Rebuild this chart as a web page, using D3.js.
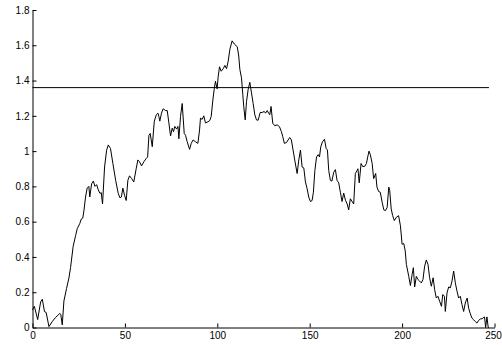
<!DOCTYPE html>
<html>
<head>
<meta charset="utf-8">
<script src="https://cdn.jsdelivr.net/npm/d3@7"></script>
<style>
  html, body { margin: 0; padding: 0; background: #fff; }
  svg { display: block; }
  .axis text { font-family: "Liberation Sans", Arial, sans-serif; font-size: 10px; fill: #000; }
  .axis path, .axis line { stroke: #000; stroke-width: 1; }
</style>
</head>
<body>
<svg id="chart" width="502" height="345"></svg>
<script>
// Signal samples (x position, value)
const sampleX = [
  0, 1, 2.8, 4.4, 5.3, 6.5, 7.4, 8.9, 10.7, 12.5, 14.8, 15.3, 16.1, 17, 18.4, 19.7, 20.6, 22, 23.3, 24.2,
  25.6, 26.4, 27.2, 27.8, 28.7, 29.6, 30.5, 31, 32, 32.9, 33.8, 34.7, 35.6, 36.5, 37.2, 37.9, 39, 40.1, 41, 42.2,
  43.5, 45, 46.4, 47.3, 48.1, 48.9, 49.8, 50.7, 51.6, 52.5, 53.6, 54.8, 56.1, 57, 57.9, 59, 60.3, 61.5, 62.3, 63,
  63.7, 64.8, 65.9, 67, 67.9, 68.4, 68.9, 69.8, 70.7, 72, 72.9, 73.8, 74.7, 75.6, 76.3, 77, 78, 78.7, 79.2, 80.1,
  81, 82.1, 82.8, 83.7, 85, 85.9, 86.9, 88.2, 89.5, 90.4, 90.9, 91.8, 92.7, 93.6, 94.9, 95.9, 96.7, 97.6, 98.3, 99,
  99.9, 100.5, 101.2, 102.1, 103.2, 104.1, 105, 105.9, 106.8, 108, 109.3, 110.8, 111.6, 112.2, 113.1, 113.8, 114.3, 115.1, 115.8, 116.7,
  117.6, 118.5, 119.4, 120.3, 121.2, 122.1, 123.2, 124.3, 125.4, 126.1, 127, 127.8, 128.4, 129.1, 130, 131.1, 132.4, 133.6, 134.7, 135.4,
  136.3, 137.4, 138.3, 139.2, 140.1, 141, 141.9, 143.2, 144.1, 145, 145.9, 146.8, 147.7, 148.6, 149.5, 150.4, 151.3, 152, 152.8, 153.7,
  154.6, 155.3, 156, 156.9, 158, 158.9, 159.6, 160.3, 161.2, 162, 163, 163.9, 164.8, 165.7, 166.6, 167.5, 168.4, 169.4, 170.3, 171.1,
  172, 172.9, 173.8, 174.7, 175.6, 176.1, 176.8, 177.8, 178.7, 179.8, 180.7, 181.4, 182.1, 182.8, 183.8, 184.6, 185.7, 186.4, 187.3, 188.2,
  189.2, 190.1, 191, 191.9, 192.8, 193.3, 194.1, 194.9, 195.8, 196.9, 198.1, 199.1, 200, 200.9, 201.7, 202.3, 203.6, 204.5, 205.4, 206.1,
  206.8, 207.7, 208.6, 209.5, 210.4, 211.3, 212.2, 213.1, 214, 214.9, 215.8, 216.8, 217.6, 218.5, 219.4, 220.3, 221.3, 222, 222.9, 223.4,
  224.3, 225.2, 226.1, 227, 227.9, 228.8, 229.7, 230.6, 231.5, 232.4, 233.3, 234.2, 235.2, 236, 236.9, 237.8, 238.7, 239.6, 240.5, 241.4,
  242.3, 243.3, 244.6, 245.2, 245.9, 246.6, 247
];
const sampleY = [
  0.10, 0.12, 0.045, 0.145, 0.16, 0.09, 0.085, 0.005, 0.034, 0.057, 0.08, 0.075, 0.015, 0.15, 0.22, 0.28, 0.34, 0.46, 0.52, 0.56,
  0.59, 0.615, 0.62, 0.66, 0.74, 0.79, 0.80, 0.74, 0.815, 0.83, 0.80, 0.81, 0.78, 0.76, 0.765, 0.70, 0.91, 1.005, 1.035, 1.015,
  0.93, 0.834, 0.76, 0.735, 0.74, 0.79, 0.75, 0.72, 0.834, 0.86, 0.845, 0.825, 0.90, 0.95, 0.94, 0.916, 0.94, 0.958, 0.967, 1.09,
  1.10, 1.025, 1.17, 1.206, 1.215, 1.196, 1.17, 1.215, 1.24, 1.23, 1.23, 1.16, 1.086, 1.13, 1.11, 1.14, 1.125, 1.14, 1.07, 1.196,
  1.27, 1.10, 1.09, 1.053, 1.01, 1.044, 1.063, 1.053, 1.044, 1.12, 1.187, 1.18, 1.20, 1.16, 1.166, 1.173, 1.196, 1.29, 1.35, 1.396,
  1.353, 1.425, 1.478, 1.453, 1.467, 1.486, 1.467, 1.51, 1.577, 1.625, 1.606, 1.592, 1.539, 1.463, 1.415, 1.32, 1.253, 1.177, 1.28, 1.35,
  1.39, 1.33, 1.27, 1.206, 1.177, 1.175, 1.219, 1.219, 1.225, 1.215, 1.23, 1.215, 1.206, 1.253, 1.158, 1.144, 1.149, 1.139, 1.11, 1.082,
  1.044, 1.048, 1.063, 1.077, 1.063, 1.006, 0.95, 0.873, 0.95, 1.006, 0.91, 0.905, 0.825, 0.787, 0.739, 0.714, 0.72, 0.767, 0.89, 0.967,
  0.98, 0.967, 1.025, 1.053, 1.067, 1.015, 1.006, 0.89, 0.834, 0.83, 0.88, 0.895, 0.834, 0.82, 0.767, 0.714, 0.762, 0.72, 0.70, 0.667,
  0.73, 0.715, 0.70, 0.873, 0.89, 0.90, 0.82, 0.93, 0.912, 0.914, 0.93, 0.967, 1.00, 0.98, 0.93, 0.844, 0.873, 0.796, 0.771, 0.767,
  0.71, 0.667, 0.663, 0.68, 0.796, 0.777, 0.672, 0.634, 0.606, 0.625, 0.634, 0.577, 0.472, 0.476, 0.434, 0.358, 0.29, 0.238, 0.30, 0.339,
  0.23, 0.29, 0.272, 0.263, 0.253, 0.272, 0.348, 0.383, 0.358, 0.282, 0.234, 0.282, 0.215, 0.167, 0.177, 0.149, 0.12, 0.187, 0.177, 0.091,
  0.196, 0.23, 0.225, 0.263, 0.32, 0.253, 0.206, 0.167, 0.177, 0.13, 0.091, 0.139, 0.167, 0.11, 0.078, 0.053, 0.044, 0.034, 0.025, 0.04,
  0.048, 0.05, 0.06, 0.0, 0.06, 0.0, 0.0
];
// Horizontal reference level
const threshold = 1.36;
const thresholdSpan = [0, 247];
// Axis settings
const xDomain = [0, 250];
const yDomain = [0, 1.8];
const xTicks = [0, 50, 100, 150, 200, 250];
const yTicks = [0, 0.2, 0.4, 0.6, 0.8, 1, 1.2, 1.4, 1.6, 1.8];

const svg = d3.select("#chart");
const plotLeft = 32.5, plotRight = 494.5, plotTop = 10, plotBottom = 327.5;

const x = d3.scaleLinear().domain(xDomain).range([plotLeft, plotRight]);
const y = d3.scaleLinear().domain(yDomain).range([plotBottom, plotTop]);

const points = sampleX.map((v, i) => [v, sampleY[i]]);

// Axes with inward ticks
const xAxisG = svg.append("g")
  .attr("class", "axis")
  .attr("transform", `translate(0,${plotBottom})`)
  .call(d3.axisBottom(x).tickValues(xTicks).tickFormat(d3.format("d"))
    .tickSizeInner(-4).tickSizeOuter(0).tickPadding(4));

// keep the last tick label inside the canvas edge
xAxisG.selectAll(".tick text")
  .filter(d => d === xDomain[1])
  .attr("dx", -1.5);

svg.append("g")
  .attr("class", "axis")
  .attr("transform", `translate(${plotLeft},0)`)
  .call(d3.axisLeft(y).tickValues(yTicks).tickFormat(d => String(+d.toFixed(1)))
    .tickSizeInner(-4).tickSizeOuter(0).tickPadding(3));

// Signal trace
svg.append("path")
  .datum(points)
  .attr("fill", "none")
  .attr("stroke", "#000")
  .attr("stroke-width", 1)
  .attr("stroke-linejoin", "round")
  .attr("d", d3.line().x(d => x(d[0])).y(d => y(d[1])));

// Reference level line
svg.append("line")
  .attr("x1", x(thresholdSpan[0]))
  .attr("x2", x(thresholdSpan[1]))
  .attr("y1", y(threshold))
  .attr("y2", y(threshold))
  .attr("stroke", "#000")
  .attr("stroke-width", 1);
</script>
</body>
</html>
